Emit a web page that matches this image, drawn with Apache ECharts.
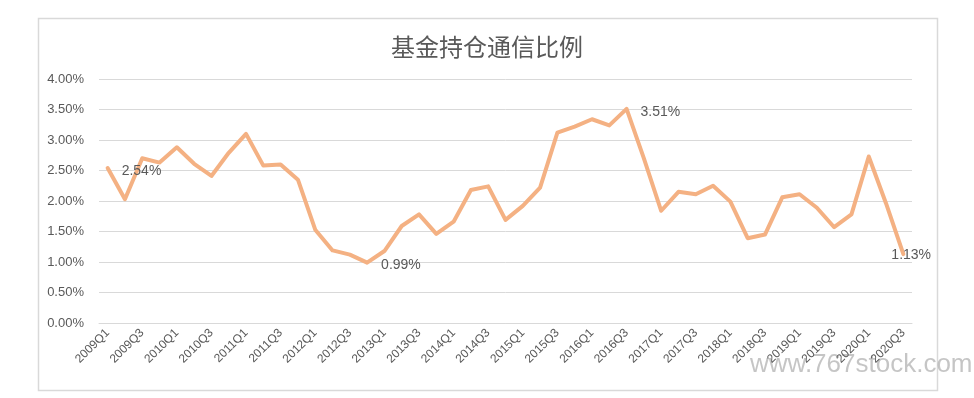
<!DOCTYPE html>
<html>
<head>
<meta charset="utf-8">
<script src="https://cdn.jsdelivr.net/npm/echarts@6/dist/echarts.min.js"></script>
<style>
  html, body { margin: 0; padding: 0; background: #ffffff; }
  #main { width: 974px; height: 398px; }
</style>
</head>
<body>
<div id="main"></div>
<script>
// quarters 2009Q1 .. 2020Q3
var quarters = [];
for (var y = 2009; y <= 2020; y++) {
  for (var q = 1; q <= 4; q++) {
    if (y === 2020 && q === 4) break;
    quarters.push(y + 'Q' + q);
  }
}

// 通信 holding ratio (%)
var ratio = [
  2.54, 2.03, 2.70, 2.63, 2.88, 2.61, 2.41, 2.79, 3.10, 2.58,
  2.60, 2.35, 1.53, 1.19, 1.12, 0.99, 1.18, 1.59, 1.78, 1.46,
  1.66, 2.18, 2.24, 1.69, 1.92, 2.22, 3.12, 3.22, 3.34, 3.24,
  3.51, 2.70, 1.84, 2.15, 2.11, 2.25, 1.99, 1.39, 1.45, 2.06,
  2.11, 1.89, 1.57, 1.78, 2.73, 1.96, 1.13
];

// points that carry a value label
var labelled = [0, 15, 30, 46];

var textColor = '#595959';
var lineColor = '#f4b183';

var seriesData = ratio.map(function (v, i) {
  var item = { value: v };
  if (labelled.indexOf(i) >= 0) {
    item.label = {
      show: true,
      position: 'right',
      distance: 10,
      offset: [4, 3],
      color: textColor,
      fontSize: 14,
      fontFamily: 'Liberation Sans',
      formatter: function (p) { return p.value.toFixed(2) + '%'; }
    };
    if (i === ratio.length - 1) item.label.offset = [-22, 1];
  }
  return item;
});

var chart = echarts.init(document.getElementById('main'), null, { renderer: 'canvas' });

var option = {
  backgroundColor: '#ffffff',
  animation: false,
  title: {
    text: '基金持仓通信比例',
    left: 'center',
    top: 30,
    textStyle: {
      color: textColor,
      fontSize: 24,
      fontWeight: 'normal',
      fontFamily: 'Noto Sans CJK SC'
    }
  },
  grid: {
    left: 99,
    right: 62,
    top: 79,
    bottom: 75
  },
  xAxis: {
    type: 'category',
    data: quarters,
    boundaryGap: true,
    axisLine: { show: true, lineStyle: { color: '#d9d9d9' } },
    axisTick: { show: false },
    axisLabel: {
      interval: 1,
      rotate: 45,
      color: textColor,
      fontSize: 12,
      margin: 8,
      fontFamily: 'Liberation Sans'
    }
  },
  yAxis: {
    type: 'value',
    min: 0,
    max: 4,
    interval: 0.5,
    axisLine: { show: false },
    axisTick: { show: false },
    axisLabel: {
      color: textColor,
      fontSize: 13,
      margin: 15,
      fontFamily: 'Liberation Sans',
      formatter: function (v) { return v.toFixed(2) + '%'; }
    },
    splitLine: { lineStyle: { color: '#d9d9d9', width: 1 } }
  },
  series: [{
    name: '通信',
    type: 'line',
    data: seriesData,
    symbol: 'circle',
    symbolSize: 0,
    showSymbol: true,
    lineStyle: { color: lineColor, width: 4, join: 'round', cap: 'round' },
    itemStyle: { color: lineColor }
  }],
  graphic: [
    {
      type: 'rect',
      left: 36,
      top: 16,
      shape: { width: 899, height: 372 },
      style: { fill: 'none', stroke: '#d9d9d9', lineWidth: 1.5 },
      silent: true
    },
    {
      type: 'text',
      left: 750,
      top: 352,
      style: {
        text: 'www.767stock.com',
        fill: 'rgba(150,150,150,0.55)',
        fontSize: 26,
        fontFamily: 'Liberation Sans'
      },
      silent: true
    }
  ]
};

chart.setOption(option);
</script>
</body>
</html>
